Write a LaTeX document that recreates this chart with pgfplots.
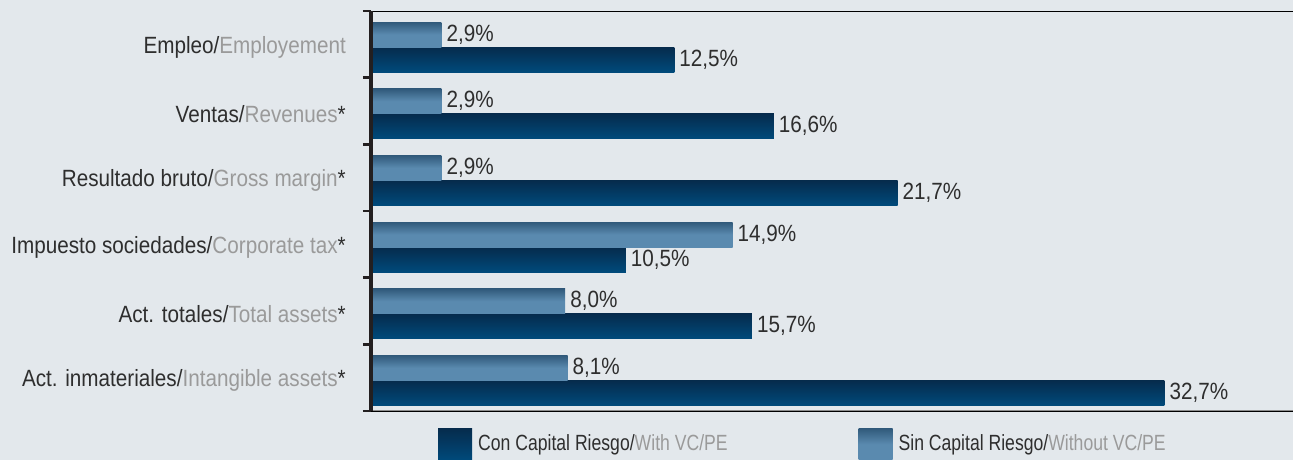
\documentclass[border=0pt]{standalone}
\usepackage{fontspec}
\setmainfont{Liberation Sans}[FakeStretch=0.88]
\newfontfamily\legfont{Liberation Sans}[FakeStretch=0.80]
\usepackage{pgfplots}
\pgfplotsset{compat=1.18}
\definecolor{bgc}{HTML}{E3E8EC}
\definecolor{txtdark}{HTML}{2E2E2E}
\definecolor{txtgray}{HTML}{9A9A9A}
\definecolor{axc}{HTML}{231F20}
\definecolor{linec}{HTML}{8C8C8C}
\definecolor{contop}{HTML}{062B4C}
\definecolor{conbot}{HTML}{004A7B}
\definecolor{sintop}{HTML}{30597A}
\definecolor{sinbot}{HTML}{5A8AAF}
\newcommand{\es}[2]{\textcolor{txtdark}{#1/}\textcolor{txtgray}{#2}}
\pgfplotsset{
  conbar/.style={draw=none, top color=contop, bottom color=conbot, bar shift=-12.5bp,
    legend image code/.code={\shade[top color=contop, bottom color=conbot] (0bp,-17bp) rectangle (34bp,15bp);}},
  sinbar/.style={draw=none, top color=sintop, bottom color=sinbot, middle color=sinbot, bar shift=12.5bp,
    legend image code/.code={\shade[top color=sintop, bottom color=sinbot, middle color=sinbot] (0bp,-17bp) rectangle (34bp,15bp);}},
}
\begin{document}
\begin{tikzpicture}
\fill[bgc] (0,0) rectangle (1293bp,460bp);
\begin{axis}[
  at={(371bp,49bp)}, anchor=south west,
  width=922bp, height=400bp, scale only axis,
  xbar, bar width=25bp,
  xmin=0, xmax=38,
  ymin=0.46, ymax=6.46, y dir=reverse,
  axis y line*=left,
  y axis line style={line width=3bp, color=axc, -},
  xtick=\empty,
  ytick={1,2,3,4,5,6},
  yticklabels={
    \es{Empleo}{Employement},
    \es{Ventas}{Revenues\textcolor{txtdark}{*}},
    \es{Resultado bruto}{Gross margin\textcolor{txtdark}{*}},
    \es{Impuesto sociedades}{Corporate tax\textcolor{txtdark}{*}},
    \es{Act. totales}{Total assets\textcolor{txtdark}{*}},
    \es{Act. inmateriales}{Intangible assets\textcolor{txtdark}{*}}},
  major tick length=0pt,
  minor ytick={0.46,1.46,2.46,3.46,4.46,5.46,6.46},
  minor tick length=8bp,
  tick align=outside,
  minor tick style={line width=2.5bp, color=axc},
  yticklabel style={font=\fontsize{23.5bp}{27bp}\selectfont, inner sep=0pt, xshift=-25bp},
  axis on top,
  point meta=x,
  nodes near coords={\pgfmathprintnumber[fixed, fixed zerofill, precision=1, use comma, assume math mode=true]{\pgfplotspointmeta}\%},
  every node near coord/.append style={anchor=west, inner sep=5bp, text=txtdark, font=\fontsize{23.5bp}{27bp}\selectfont},
  legend columns=2,
  legend style={at={(rel axis cs:0.0727,-0.0425)}, anchor=north west, draw=none, fill=none,
    inner sep=0pt, font=\legfont\fontsize{22bp}{26bp}\selectfont,
    nodes={inner sep=0pt, text=txtdark},
    /tikz/every odd column/.append style={column sep=6bp},
    /tikz/every even column/.append style={column sep=131bp}},
]
% Con Capital Riesgo / With VC/PE
\addplot[conbar] coordinates {(12.5,1)};
\addlegendentry{Con Capital Riesgo/\textcolor{txtgray}{With VC/PE}}
% Sin Capital Riesgo / Without VC/PE
\addplot[sinbar] coordinates {(2.9,1)};
\addlegendentry{Sin Capital Riesgo/\textcolor{txtgray}{Without VC/PE}}
\addplot[conbar, forget plot] coordinates {(16.6,2)};
\addplot[conbar, forget plot] coordinates {(21.7,3)};
\addplot[conbar, forget plot] coordinates {(10.5,4)};
\addplot[conbar, forget plot] coordinates {(15.7,5)};
\addplot[conbar, forget plot] coordinates {(32.7,6)};
\addplot[sinbar, forget plot] coordinates {(2.9,2)};
\addplot[sinbar, forget plot] coordinates {(2.9,3)};
\addplot[sinbar, forget plot] coordinates {(14.9,4)};
\addplot[sinbar, forget plot] coordinates {(8.0,5)};
\addplot[sinbar, forget plot] coordinates {(8.1,6)};
\draw[linec, line width=2bp] (rel axis cs:0,0) -- (rel axis cs:1,0);
\draw[linec, line width=2bp] (rel axis cs:0,1) -- (rel axis cs:1,1);
\end{axis}
\pgfresetboundingbox
\useasboundingbox (0,0) rectangle (1293bp,460bp);
\end{tikzpicture}
\end{document}
